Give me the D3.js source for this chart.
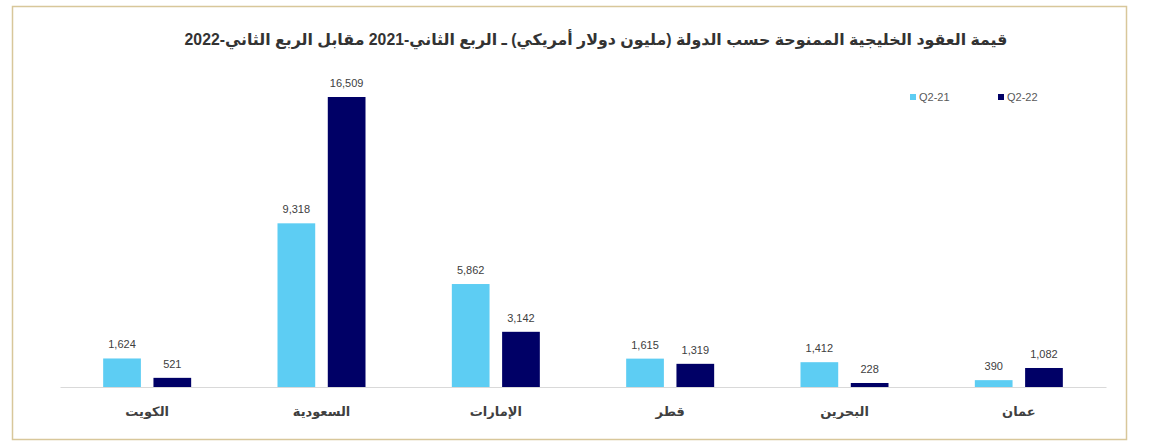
<!DOCTYPE html>
<html>
<head>
<meta charset="utf-8">
<script src="https://cdn.jsdelivr.net/npm/d3@7"></script>
<style>
  body { margin: 0; background: #fff; }
  svg { font-family: "Liberation Sans", "DejaVu Sans", sans-serif; }
</style>
</head>
<body>
<svg width="1159" height="446"></svg>
<script>
// data
var countries = ["الكويت", "السعودية", "الإمارات", "قطر", "البحرين", "عمان"];
var q221 = [1624, 9318, 5862, 1615, 1412, 390];
var q222 = [521, 16509, 3142, 1319, 228, 1082];
var seriesNames = ["Q2-21", "Q2-22"];
var seriesColors = ["#5dcdf3", "#000066"];

var svg = d3.select("svg");
var plotLeft = 60, plotRight = 1106, plotBase = 387, plotTop = 97;

// frame
svg.append("rect")
  .attr("x", 12.5).attr("y", 6.5)
  .attr("width", 1114).attr("height", 433)
  .attr("fill", "#fff")
  .attr("stroke", "#d8c79a")
  .attr("stroke-width", 1.5);

svg.append("text")
  .attr("x", 596)
  .attr("y", 45)
  .attr("text-anchor", "middle")
  .attr("direction", "rtl")
  .attr("font-size", 15.8)
  .attr("font-weight", "bold")
  .attr("fill", "#333")
  .text("قيمة العقود الخليجية الممنوحة حسب الدولة (مليون دولار أمريكي) ـ الربع الثاني-2021 مقابل الربع الثاني-2022");

var rows = countries.map(function(c, i) {
  return { country: c, values: [q221[i], q222[i]] };
});

var x0 = d3.scaleBand()
  .domain(countries)
  .range([plotLeft, plotRight]);

var x1 = d3.scaleBand()
  .domain(seriesNames)
  .range([x0.bandwidth() / 2 - 44, x0.bandwidth() / 2 + 44])
  .paddingInner(0.25);

var y = d3.scaleLinear()
  .domain([0, 16509])
  .range([plotBase, plotTop]);

var groups = svg.selectAll("g.country")
  .data(rows)
  .enter()
  .append("g")
  .attr("class", "country")
  .attr("transform", function(d) { return "translate(" + x0(d.country) + ",0)"; });

var bars = groups.selectAll("g.bar")
  .data(function(d) {
    return d.values.map(function(v, i) { return { name: seriesNames[i], value: v, i: i }; });
  })
  .enter()
  .append("g")
  .attr("class", "bar");

bars.append("rect")
  .attr("x", function(d) { return x1(d.name); })
  .attr("width", x1.bandwidth())
  .attr("y", function(d) { return y(d.value); })
  .attr("height", function(d) { return plotBase - y(d.value); })
  .attr("fill", function(d) { return seriesColors[d.i]; });

bars.append("text")
  .attr("x", function(d) { return x1(d.name) + x1.bandwidth() / 2; })
  .attr("y", function(d) { return y(d.value) - 10; })
  .attr("text-anchor", "middle")
  .attr("font-size", 11)
  .attr("fill", "#404040")
  .text(function(d) { return d3.format(",")(d.value); });

// x axis
var xAxis = d3.axisBottom(x0).tickSize(0).tickPadding(20);
var ax = svg.append("g")
  .attr("transform", "translate(0," + plotBase + ")")
  .call(xAxis);
ax.select(".domain").attr("stroke", "#d9d9d9");
ax.selectAll("text")
  .attr("font-size", 13)
  .attr("font-weight", "bold")
  .attr("fill", "#404040")
  .style("font-family", "'DejaVu Sans', sans-serif");

// legend
var legendX = [910, 998];
var legend = svg.selectAll("g.legend")
  .data(seriesNames)
  .enter()
  .append("g")
  .attr("class", "legend")
  .attr("transform", function(d, i) { return "translate(" + legendX[i] + ",97)"; });

legend.append("rect")
  .attr("x", 0).attr("y", -3)
  .attr("width", 6).attr("height", 6)
  .attr("fill", function(d, i) { return seriesColors[i]; });

legend.append("text")
  .attr("x", 9)
  .attr("y", 4)
  .attr("font-size", 11)
  .attr("fill", "#595959")
  .text(function(d) { return d; });
</script>
</body>
</html>
